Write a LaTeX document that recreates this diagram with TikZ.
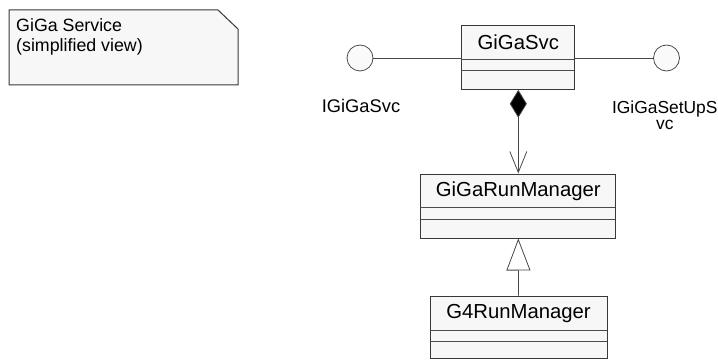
\documentclass[tikz,border=0pt]{standalone}
\usepackage{fontspec}
\setmainfont{Liberation Sans}
\usetikzlibrary{arrows.meta}
\begin{document}
\begin{tikzpicture}[x=1pt,y=-1pt,
  classbox/.style={draw=black!78, fill=black!3, line width=1pt, inner sep=0pt},
  divider/.style={draw=black!70, line width=0.8pt},
  title/.style={font=\fontsize{20.3}{22}\selectfont, inner sep=0pt},
  lbl/.style={font=\fontsize{18.3}{16.5}\selectfont, inner sep=0pt},
  iface/.style={circle, draw=black!70, fill=black!2, line width=0.8pt, minimum size=26pt, inner sep=0pt},
  conn/.style={draw=black!72, line width=0.8pt}
]
\useasboundingbox (0,0) rectangle (718,361);
\clip (0,0) rectangle (718,361);

% note
\draw[draw=black!78, fill=black!3, line width=1pt] (9,10) -- (218,10) -- (238,29) -- (238,85) -- (9,85) -- cycle;
\node[lbl, font=\fontsize{17.8}{19.5}\selectfont, align=left, anchor=north west] (note) at (16,18.5) {GiGa Service\\(simplified view)};

% classes
\node[classbox, minimum width=113.3pt, minimum height=63.6pt] (svc) at (518.3,57.5) {};
\draw[divider] (svc.north west) ++(0,34.3) -- ++(113.3,0);
\draw[divider] (svc.north west) ++(0,45.3) -- ++(113.3,0);
\path (svc.north) ++(0,17.3) node[title] (svct) {GiGaSvc};

\node[classbox, minimum width=195.3pt, minimum height=64pt] (run) at (518.3,206) {};
\draw[divider] (run.north west) ++(0,34.3) -- ++(195.3,0);
\draw[divider] (run.north west) ++(0,46) -- ++(195.3,0);
\path (run.north) ++(0,17.3) node[title] (runt) {GiGaRunManager};

\node[classbox, minimum width=177pt, minimum height=62pt] (g4) at (518.5,327) {};
\draw[divider] (g4.north west) ++(0,34.7) -- ++(177,0);
\draw[divider] (g4.north west) ++(0,45.7) -- ++(177,0);
\path (g4.north) ++(0,17.8) node[title] (g4t) {G4RunManager};

% interfaces
\node[iface] (isvc) at (360,58) {};
\node[iface] (isetup) at (666.5,58) {};
\draw[conn] (isvc) -- (svc.west |- isvc);
\draw[conn] (isetup) -- (svc.east |- isetup);
\node[lbl, anchor=base] (isvcl) at (361,113) {IGiGaSvc};
\node[lbl, font=\fontsize{17.4}{16.5}\selectfont, align=center, anchor=north] (isetupl) at (664.8,100.5) {IGiGaSetUpS\\vc};

% composition
\draw[conn, {Diamond[length=28pt,width=17pt,fill=black]}-{Straight Barb[length=21pt,width=17pt]}] (svc.south) -- (run.north);
% generalisation
\draw[conn, -{Triangle[length=32pt,width=24pt,fill=white]}] (g4.north) -- (run.south);
\end{tikzpicture}
\end{document}
